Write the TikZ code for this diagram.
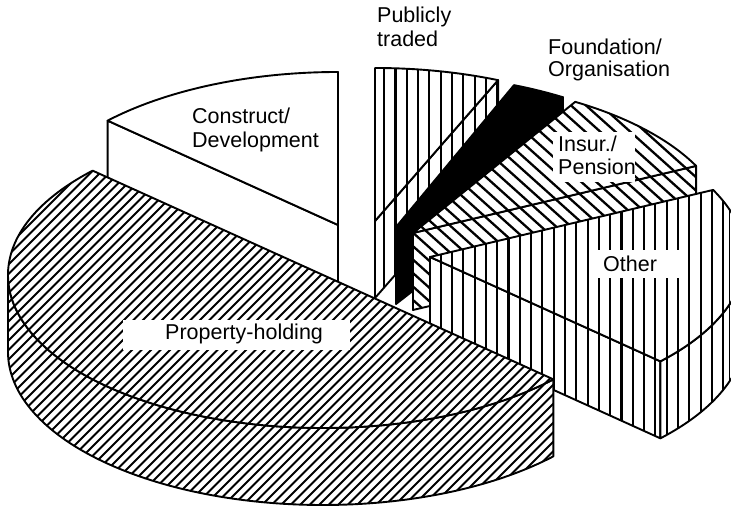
\documentclass[tikz,border=0pt]{standalone}
\usepackage{fontspec}
\setmainfont{Liberation Sans}
\usetikzlibrary{calc}
\tikzset{
  edge/.style={line width=1.9pt, line join=round},
  hl/.style={line width=1.9pt},
  ell/.style={x radius=315pt, y radius=153pt},
  lab/.style={anchor=base west, inner sep=0pt, font=\fontsize{21.5}{24}\selectfont},
}
\newcommand\hatchNE{\foreach \i in {-520,-510.5,...,740}{\draw[hl] (\i,0) -- ++(520,520);}}
\newcommand\hatchNW{\foreach \i in {0,15,...,1320}{\draw[hl,line width=2.3pt] (\i,0) -- ++(-580,520);}}
\newcommand\hatchV{\foreach \i in {0,11.3,...,735}{\draw[hl,line width=2.1pt] (\i,0) -- (\i,508);}}
\newcommand\face[2]{%
  \begin{scope}\clip #1; \fill[white] (0,0) rectangle (731,508); #2\end{scope}
  \draw[edge] #1;}
\begin{document}
\begin{tikzpicture}[x=1pt,y=1pt]
\useasboundingbox (0,0) rectangle (731,508);
\fill[white] (0,0) rectangle (731,508);
\clip (0,0) rectangle (731,508);
% centres
\coordinate (CO) at (338,283);
\coordinate (PU) at (375,287);
\coordinate (FO) at (396,281);
\coordinate (IN) at (413,275);
\coordinate (OT) at (430,251);
\coordinate (PR) at (323,233);
% rim points
\coordinate (CO1) at ($(CO)+(90:315pt and 153pt)$);
\coordinate (CO2) at ($(CO)+(137:315pt and 153pt)$);
\coordinate (PU1) at ($(PU)+(67:315pt and 153pt)$);
\coordinate (FO1) at ($(FO)+(58:315pt and 153pt)$);
\coordinate (IN1) at ($(IN)+(26:315pt and 153pt)$);
\coordinate (OT1) at ($(OT)+(-43:315pt and 153pt)$);
\coordinate (OT0) at ($(OT)+(0:315pt and 153pt)$);
\coordinate (PR1) at ($(PR)+(137:315pt and 153pt)$);
\coordinate (PR2) at ($(PR)+(180:315pt and 153pt)$);
% Construct/Development
\face{(CO) -- (CO2) -- ($(CO2)+(0,-77)$) -- ($(CO)+(0,-77)$) -- cycle}{}
\face{(CO) -- (CO1) arc[start angle=90,end angle=137,ell] -- cycle}{}
% Publicly traded
\face{(PU) -- (PU1) -- ($(PU1)+(0,-77)$) -- ($(PU)+(0,-77)$) -- cycle}{\hatchV}
\face{(PU) -- (PU1) arc[start angle=67,end angle=90,ell] -- cycle}{\hatchV}
% Foundation/Organisation
\face{(FO) -- (FO1) -- ($(FO1)+(0,-77)$) -- ($(FO)+(0,-77)$) -- cycle}{\fill[black] (0,0) rectangle (731,508);}
\face{(FO) -- (FO1) arc[start angle=58,end angle=68,ell] -- cycle}{\fill[black] (0,0) rectangle (731,508);}
% Insur./Pension
\face{(IN) -- (IN1) -- ($(IN1)+(0,-77)$) -- ($(IN)+(0,-77)$) -- cycle}{\hatchNW}
\face{(IN) -- (IN1) arc[start angle=26,end angle=59,ell] -- cycle}{\hatchNW}
% Other
\face{(OT) -- (OT1) -- ($(OT1)+(0,-77)$) -- ($(OT)+(0,-77)$) -- cycle}{\hatchV}
\face{(OT1) arc[start angle=-43,end angle=0,ell] -- ($(OT0)+(0,-77)$) arc[start angle=0,end angle=-43,ell] -- cycle}{\hatchV}
\face{(OT) -- (OT1) arc[start angle=-43,end angle=26,ell] -- cycle}{\hatchV}
\coordinate (OTR1) at (729.5,298);
\coordinate (OTR2) at (729.5,127);
\draw[edge] (OTR1) -- (OTR2);
% Property-holding
\face{(PR2) arc[start angle=180,end angle=317,ell] -- ++(0,-77) arc[start angle=317,end angle=180,ell] -- cycle}{\hatchNE}
\face{(PR1) arc[start angle=137,end angle=317,ell] -- cycle}{\hatchNE}
% label backgrounds
\fill[white] (123,158) rectangle (350,188);
\fill[white] (590,230) rectangle (682,258);
\fill[white] (553,326) rectangle (635,376);
% labels
\node[lab] (lpub1) at (377,485) {Publicly};
\node[lab] (lpub2) at (377,461) {traded};
\node[lab] (lfou1) at (548,453) {Foundation/};
\node[lab] (lfou2) at (548,431) {Organisation};
\node[lab] (lcon1) at (192,384) {Construct/};
\node[lab] (lcon2) at (192,360) {Development};
\node[lab] (lins1) at (558,356) {Insur./};
\node[lab] (lins2) at (558,333) {Pension};
\node[lab] (loth) at (603,236) {Other};
\node[lab] (lpro) at (165,168) {Property-holding};
\end{tikzpicture}
\end{document}
